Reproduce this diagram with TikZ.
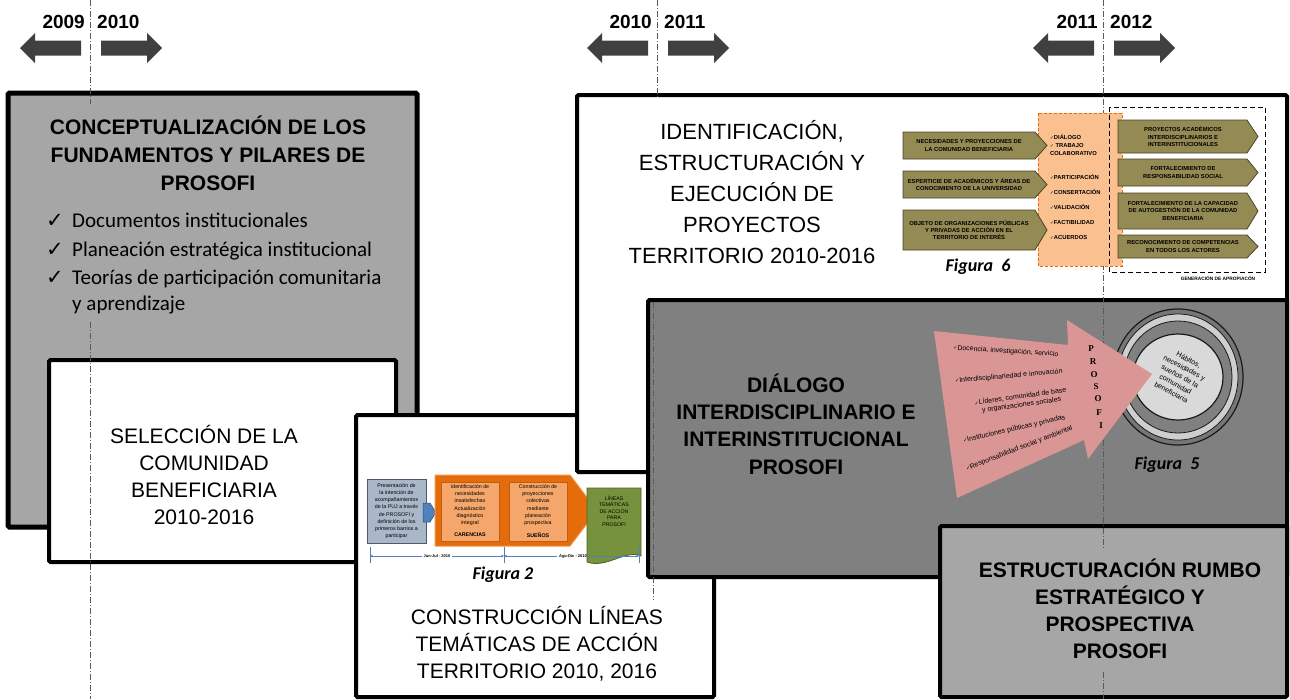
\documentclass[tikz,border=0pt]{standalone}
\usepackage{fontspec}
\setmainfont{Liberation Sans}
\newfontfamily\calib{Carlito}
\newfontfamily\dejavu{DejaVu Sans}
\newfontfamily\serifb{Liberation Serif}
\usetikzlibrary{arrows.meta}
\definecolor{gA}{HTML}{A6A6A6}
\definecolor{gE}{HTML}{808080}
\definecolor{arrowgray}{HTML}{404040}
\definecolor{linegray}{HTML}{595959}
\definecolor{olive}{HTML}{948A54}
\definecolor{olivedark}{HTML}{4A4527}
\definecolor{peach}{HTML}{FAC090}
\definecolor{orangeD}{HTML}{E46C0A}
\definecolor{orangeB}{HTML}{F79646}
\definecolor{orangeL}{HTML}{F5A66A}
\definecolor{orangeE}{HTML}{C55A11}
\definecolor{bluegray}{HTML}{A9B7C9}
\definecolor{bluegraydark}{HTML}{4D5B6E}
\definecolor{blueA}{HTML}{4F81BD}
\definecolor{greenD}{HTML}{76923C}
\definecolor{greenE}{HTML}{4F6228}
\definecolor{pinkA}{HTML}{D99694}
\definecolor{ringlight}{HTML}{D9D9D9}
\definecolor{ringdark}{HTML}{1A1A1A}
\newcommand\setfs[2]{\fontsize{#1}{#2}\selectfont}
\newcommand\pent[5]{\draw[olivearrow] (#1,#2) -- (#4,#2) -- (#5,{(#2+#3)/2}) -- (#4,#3) -- (#1,#3) -- cycle;}
\newcommand\yearpair[4]{%
  \fill[yeararrow] (#1-70,48) -- (#1-55,33) -- (#1-55,40.5) -- (#1-9,40.5) -- (#1-9,55.5) -- (#1-55,55.5) -- (#1-55,63) -- cycle;
  \fill[yeararrow] (#1+11,40.5) -- (#1+57,40.5) -- (#1+57,33) -- (#1+72,48) -- (#1+57,63) -- (#1+57,55.5) -- (#1+11,55.5) -- cycle;
  \node[yearlabel, anchor=base east] (#4L) at (#1-5,28) {#2};
  \node[yearlabel, anchor=base west] (#4R) at (#1+7,28) {#3};
}
\begin{document}
\begin{tikzpicture}[x=1pt,y=-1pt,
  bigbox/.style={draw=black, line width=4pt, rounded corners=1.5pt},
  timeline/.style={draw=linegray, line width=0.8pt, dash pattern=on 6pt off 2pt on 1pt off 2pt},
  yeararrow/.style={fill=arrowgray},
  yearlabel/.style={font=\bfseries\setfs{19}{20}, inner sep=0pt},
  titleB/.style={font=\bfseries\setfs{21}{27}, align=center, inner sep=0pt},
  titleR/.style={font=\setfs{21}{27}, align=center, inner sep=0pt},
  olivearrow/.style={fill=olive, draw=olivedark, line width=0.8pt},
  olivetext/.style={font=\bfseries\setfs{5.8}{7.3}, align=center, inner sep=0pt},
  peachtext/.style={font=\bfseries\setfs{5.8}{8}, inner sep=0pt, anchor=base west, align=left},
  figlabel/.style={font=\calib\bfseries\itshape\setfs{18}{20}, inner sep=0pt},
  tinytext/.style={font=\setfs{5.3}{7.2}, align=center, inner sep=0pt},
  pinktext/.style={font=\setfs{7}{8.5}, inner sep=0pt},
  checkline/.style={font=\calib\setfs{21}{27}, inner sep=0pt, anchor=base west},
  checkmark/.style={font=\dejavu\setfs{21}{22}, inner sep=0pt, anchor=base west},
  tl/.style={draw=blueA, line width=0.7pt},
  tlarrow/.style={tl, -{Stealth[length=3pt,width=2.6pt]}}
]
\useasboundingbox (0,0) rectangle (1290,699);

% ---------- year arrows ----------
\yearpair{90}{2009}{2010}{ya}
\yearpair{657}{2010}{2011}{yb}
\yearpair{1103}{2011}{2012}{yc}

% ---------- big boxes ----------
\draw[bigbox, line width=5pt, fill=gA] (8,93) rectangle (417,527);
\draw[bigbox, fill=white] (49,360) rectangle (396,562);
\draw[bigbox, fill=white] (356,415) rectangle (714,697);
\draw[bigbox, fill=white] (577,95) rectangle (1287,472);
\draw[bigbox, fill=gE] (648,300) rectangle (1287,577);
\draw[bigbox, fill=gA] (940,526) rectangle (1287,697);

% ---------- time lines ----------
\draw[timeline] (90,0) -- (90,104);
\draw[timeline] (90,322) -- (90,699);
\draw[timeline] (657,0) -- (657,97);
\draw[timeline] (653,302) -- (653,600);
\draw[timeline] (1103,0) -- (1103,550);
\draw[timeline] (1103,672) -- (1103,699);

% ---------- box texts ----------
\node[titleB, font=\bfseries\setfs{21}{28}] (tA) at (208,153) {CONCEPTUALIZACIÓN DE LOS\\FUNDAMENTOS Y PILARES DE\\PROSOFI};
\node[checkmark] (k1) at (46,227) {✓};
\node[checkline] (c1) at (72,227) {Documentos institucionales};
\node[checkmark] (k2) at (46,256) {✓};
\node[checkline] (c2) at (72,256) {Planeación estratégica institucional};
\node[checkmark] (k3) at (46,284) {✓};
\node[checkline] (c3) at (72,284) {Teorías de participación comunitaria};
\node[checkline] (c4) at (72,310) {y aprendizaje};

\node[titleR, font=\setfs{21}{26.7}] (tB) at (204,475) {SELECCIÓN DE LA\\COMUNIDAD\\BENEFICIARIA\\2010-2016};
\node[titleR] (tC) at (537,644) {CONSTRUCCIÓN LÍNEAS\\TEMÁTICAS DE ACCIÓN\\TERRITORIO 2010, 2016};
\node[titleR, font=\setfs{22}{31}] (tD) at (752,192) {IDENTIFICACIÓN,\\ESTRUCTURACIÓN Y\\EJECUCIÓN DE\\PROYECTOS\\TERRITORIO 2010-2016};
\node[titleB, font=\bfseries\setfs{21}{27.3}] (tE) at (796,424) {DIÁLOGO\\INTERDISCIPLINARIO E\\INTERINSTITUCIONAL\\PROSOFI};
\node[titleB] (tF) at (1120,609) {ESTRUCTURACIÓN RUMBO\\ESTRATÉGICO Y\\PROSPECTIVA\\PROSOFI};

% ---------- Figura 2 ----------
\draw[fill=bluegray, draw=bluegraydark, line width=0.8pt] (367,479) rectangle (426,543);
\node[tinytext] (f2a) at (396.5,511) {Presentación de\\la intención de\\acompañamientos\\de la PUJ a través\\de PROSOFI y\\definición de los\\primeros barrios a\\participar};
\draw[fill=blueA, draw=blueA!60!black, line width=0.5pt] (423,503) -- (430,503) -- (436,512.5) -- (430,522) -- (423,522) -- cycle;
\draw[fill=orangeD, draw=orangeB, line width=1pt] (435,475) -- (570,475) -- (597,510.5) -- (570,546) -- (435,546) -- cycle;
\draw[fill=orangeL, draw=orangeE, line width=0.6pt] (441,482) rectangle (499,541);
\draw[fill=orangeL, draw=orangeE, line width=0.6pt] (509,482) rectangle (567,541);
\node[tinytext] (f2b) at (470,505) {Identificación de\\necesidades\\insatisfechas\\Actualización\\diagnóstico\\integral};
\node[tinytext, font=\bfseries\setfs{5.3}{7}] (f2bl) at (470,535) {CARENCIAS};
\node[tinytext] (f2c) at (538,505) {Construcción de\\proyecciones\\colectivas\\mediante\\planeación\\prospectiva};
\node[tinytext, font=\bfseries\setfs{5.3}{7}] (f2cl) at (538,535) {SUEÑOS};
\draw[fill=greenD, draw=greenE, line width=0.8pt] (587,488) -- (641,488) -- (641,556) .. controls (626,549) and (606,569) .. (587,562) -- cycle;
\node[tinytext, font=\setfs{5.2}{6.5}, text=black] (f2d) at (614,511) {LÍNEAS\\TEMÁTICAS\\DE ACCIÓN\\PARA\\PROSOFI};
\coordinate (t1) at (370,556);
\coordinate (t2) at (504,556);
\coordinate (t3) at (639,556);
\draw[tl] (370,547) -- (370,563);
\draw[tl] (504,547) -- (504,563);
\draw[tl] (639,547) -- (639,563);
\node[inner sep=1.5pt, font=\bfseries\setfs{4}{5}] (lab1) at (437,556) {Jun-Jul - 2010};
\node[inner sep=1.5pt, font=\bfseries\setfs{4}{5}] (lab2) at (573,556) {Ago-Dic - 2010};
\draw[tlarrow] (lab1.west) -- (t1);
\draw[tlarrow] (lab1.east) -- (t2);
\draw[tlarrow] (lab2.west) -- (t2);
\draw[tlarrow] (lab2.east) -- (t3);
\node[figlabel] (fig2) at (503,575) {Figura 2};

% ---------- Figura 6 ----------
\draw[fill=peach, draw=orangeD, line width=0.8pt, dash pattern=on 3pt off 2pt] (1038,113) rectangle (1122,266);
\draw[black, line width=1pt, dash pattern=on 5pt off 3pt] (1109,107) rectangle (1265,272);
\pent{903}{132}{159}{1035}{1047}
\pent{903}{171}{198}{1035}{1047}
\pent{903}{210}{250}{1035}{1047}
\pent{1118}{120}{153}{1247}{1258}
\pent{1118}{159}{186}{1247}{1258}
\pent{1118}{193}{229}{1247}{1258}
\pent{1118}{235}{258}{1247}{1258}
\node[olivetext] (ln1) at (969,145.5) {NECESIDADES Y PROYECCIONES DE\\LA COMUNIDAD BENEFICIARIA};
\node[olivetext] (ln2) at (969,184.5) {ESPERTICIE DE ACADÉMICOS Y ÁREAS DE\\CONOCIMIENTO DE LA UNIVERSIDAD};
\node[olivetext] (ln3) at (969,230) {OBJETO DE ORGANIZACIONES PÚBLICAS\\Y PRIVADAS DE ACCIÓN EN EL\\TERRITORIO DE INTERÉS};
\node[olivetext] (rn1) at (1183,136.5) {PROYECTOS ACADÉMICOS\\INTERDISCIPLINARIOS E\\INTERINSTITUCIONALES};
\node[olivetext] (rn2) at (1183,172.5) {FORTALECIMIENTO DE\\RESPONSABILIDAD SOCIAL};
\node[olivetext] (rn3) at (1183,211) {FORTALECIMIENTO DE LA CAPACIDAD\\DE AUTOGESTIÓN DE LA COMUNIDAD\\BENEFICIARIA};
\node[olivetext] (rn4) at (1183,246.5) {RECONOCIMIENTO DE COMPETENCIAS\\EN TODOS LOS ACTORES};
\node[peachtext] (p1) at (1050,139) {{\dejavu\setfs{4.5}{5}✓}DIÁLOGO};
\node[peachtext] (p2) at (1050,155) {{\dejavu\setfs{4.5}{5}✓} TRABAJO\\COLABORATIVO};
\node[peachtext] (p3) at (1050,179) {{\dejavu\setfs{4.5}{5}✓}PARTICIPACIÓN};
\node[peachtext] (p4) at (1050,194) {{\dejavu\setfs{4.5}{5}✓}CONSERTACIÓN};
\node[peachtext] (p5) at (1050,209) {{\dejavu\setfs{4.5}{5}✓}VALIDACIÓN};
\node[peachtext] (p6) at (1050,224) {{\dejavu\setfs{4.5}{5}✓}FACTIBILIDAD};
\node[peachtext] (p7) at (1050,239) {{\dejavu\setfs{4.5}{5}✓}ACUERDOS};
\node[figlabel] (fig6) at (978,267) {Figura\ \ 6};
\node[inner sep=0pt, font=\bfseries\setfs{4.8}{5}] (gen) at (1218,278) {GENERACIÓN DE APROPIACÓN};

% ---------- Figura 5 ----------
\draw[fill=gE!92!black, draw=ringdark, line width=1.2pt] (1178,377) ellipse [x radius=65, y radius=68];
\draw[fill=ringlight!95!black, draw=ringdark, line width=0.8pt] (1178,377) ellipse [x radius=60, y radius=63];
\draw[fill=gE, draw=ringdark, line width=0.8pt] (1178,377) ellipse [x radius=54, y radius=56];
\draw[fill=ringlight, draw=ringdark, line width=1.2pt] (1178,377) ellipse [x radius=45, y radius=43];
\node[inner sep=0pt, align=center, rotate=-28, font=\setfs{7.2}{9.3}] (ring) at (1180,376) {Hábitos,\\necesidades y\\sueños de la\\comunidad\\beneficiaria};
\fill[pinkA] (934,331) -- (1068,345) -- (1067,320) -- (1152,374) -- (1088,459) -- (1084,440) -- (957,498) -- cycle;
\node[pinktext, anchor=west, rotate=-3.6] (q1) at (953,348) {{\dejavu\setfs{5}{6}✓}Docencia,\ investigación,\ servicio};
\node[pinktext, anchor=west, rotate=5] (q2) at (955,381) {{\dejavu\setfs{5}{6}✓}Interdisciplinariedad\ e innovación};
\node[pinktext, align=center, rotate=8] (q3) at (1021,401) {{\dejavu\setfs{5}{6}✓}Líderes,\ comunidad\ de base\\y organizaciones\ sociales};
\node[pinktext, anchor=west, rotate=13] (q4) at (963,441) {{\dejavu\setfs{5}{6}✓}Instituciones\ públicas\ y privadas};
\node[pinktext, anchor=west, rotate=21] (q5) at (966,469) {{\dejavu\setfs{5}{6}✓}Responsabilidad\ social\ y ambiental};
\node[inner sep=0pt, font=\serifb\bfseries\setfs{9}{10}] (s1) at (1091,349) {P};
\node[inner sep=0pt, font=\serifb\bfseries\setfs{9}{10}] (s2) at (1093,362) {R};
\node[inner sep=0pt, font=\serifb\bfseries\setfs{9}{10}] (s3) at (1094,375) {O};
\node[inner sep=0pt, font=\serifb\bfseries\setfs{9}{10}] (s4) at (1096,387) {S};
\node[inner sep=0pt, font=\serifb\bfseries\setfs{9}{10}] (s5) at (1098,399) {O};
\node[inner sep=0pt, font=\serifb\bfseries\setfs{9}{10}] (s6) at (1099,413) {F};
\node[inner sep=0pt, font=\serifb\bfseries\setfs{9}{10}] (s7) at (1101,426) {I};
\node[figlabel] (fig5) at (1167,465) {Figura\ \ 5};
\end{tikzpicture}
\end{document}
